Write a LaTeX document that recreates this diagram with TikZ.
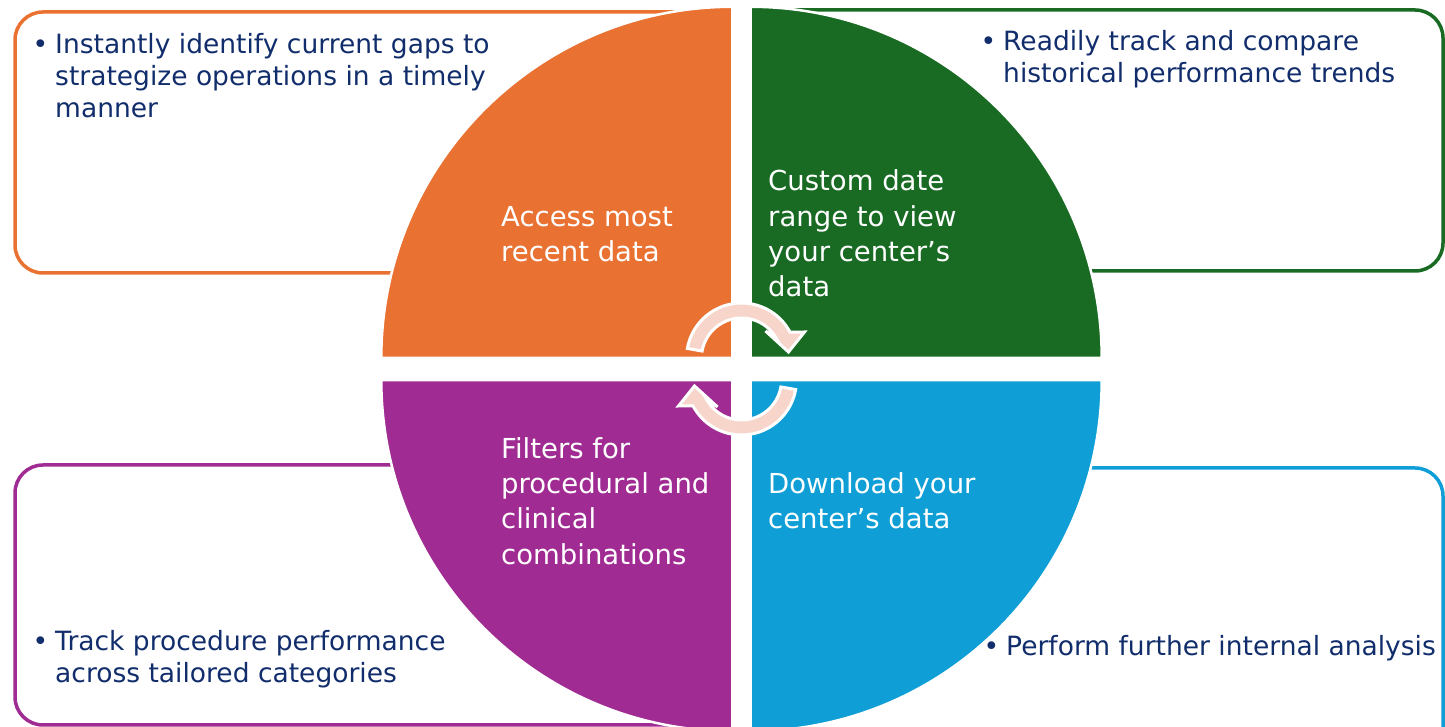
\documentclass[tikz,border=0pt]{standalone}
\usepackage{fontspec}
\setmainfont{DejaVu Sans}
\usepackage{tikz}
\usetikzlibrary{positioning}
\definecolor{qOrange}{HTML}{E97132}
\definecolor{qGreen}{HTML}{196B24}
\definecolor{qBlue}{HTML}{0F9ED5}
\definecolor{qPurple}{HTML}{A02B93}
\definecolor{bulletNavy}{HTML}{112D6B}
\definecolor{arrowPink}{RGB}{247,213,203}
\tikzset{PanelBox/.style={%
    draw=#1,%
    line width=3.5pt,%
    rounded corners=28pt,%
}}
\tikzset{QuarterFill/.style={%
    fill=#1,%
    draw=white,%
    line width=2.5pt,%
}}
\tikzset{QuarterText/.style={%
    text=white,%
    align=left,%
    anchor=west,%
    inner sep=0pt,%
    font=\fontsize{27.5}{35.3}\selectfont,%
}}
\tikzset{BulletText/.style={%
    text=bulletNavy,%
    align=left,%
    anchor=west,%
    inner sep=0pt,%
    font=\fontsize{26.5}{32}\selectfont,%
}}
\tikzset{TurnArrowShape/.style={%
    fill=arrowPink,%
    draw=white,%
    line width=3pt,%
    line join=miter,%
}}
\NewDocumentCommand{\bulletLine}{m}{%
    \llap{\textbullet\hspace{7pt}}#1%
}
\NewDocumentCommand{\turnArrow}{m m}{%
    \begin{scope}[shift={#1},rotate=#2]
        \draw[TurnArrowShape] (170:55) arc[start angle=170, end angle=28, radius=55]
            -- (63,26) -- (47,6) -- (24,27) -- (28:40)
            arc[start angle=28, end angle=170, radius=40] -- cycle;
    \end{scope}%
}

\begin{document}
\begin{tikzpicture}[x=1pt,y=1pt]
    \useasboundingbox (0,0) rectangle (1445,727);
    \clip (0,0) rectangle (1445,727);

    % outline boxes behind the quarters
    \draw[PanelBox=qOrange] (15,454) rectangle (725,715);
    \draw[PanelBox=qGreen] (760,456) rectangle (1443,717);
    \draw[PanelBox=qBlue] (760,-80) rectangle (1443,259);
    \draw[PanelBox=qPurple] (15,2) rectangle (725,262);

    % the four quarters
    \draw[QuarterFill=qOrange] (732.3,369.2) -- (381.3,369.2) arc[start angle=180, end angle=90, radius=351] -- cycle;
    \draw[QuarterFill=qGreen] (750.7,369.2) -- (750.7,720.2) arc[start angle=90, end angle=0, radius=351] -- cycle;
    \draw[QuarterFill=qBlue] (750.7,346.8) -- (1101.7,346.8) arc[start angle=0, end angle=-90, radius=351] -- cycle;
    \draw[QuarterFill=qPurple] (732.3,346.8) -- (732.3,-4.2) arc[start angle=270, end angle=180, radius=351] -- cycle;

    % cycle arrows
    \turnArrow{(741.5,369)}{0}
    \turnArrow{(741.5,347)}{180}

    \node[QuarterText] (accessText) at (501,493) {Access most\\recent data};
    \node[QuarterText] (customText) at (768,493.5) {Custom date\\range to view\\your center’s\\data};
    \node[QuarterText] (filterText) at (501,226) {Filters for\\procedural and\\clinical\\combinations};
    \node[QuarterText] (downloadText) at (768,226.5) {Download your\\center’s data};

    \node[BulletText] (gapsText) at (55,651) {\bulletLine{Instantly identify current gaps to}\\strategize operations in a timely\\manner};
    \node[BulletText] (trendText) at (1003,667.5) {\bulletLine{Readily track and compare}\\historical performance trends};
    \node[BulletText] (trackText) at (55,67.5) {\bulletLine{Track procedure performance}\\across tailored categories};
    \node[BulletText] (analysisText) at (1006,79) {\bulletLine{Perform further internal analysis}};
\end{tikzpicture}
\end{document}
